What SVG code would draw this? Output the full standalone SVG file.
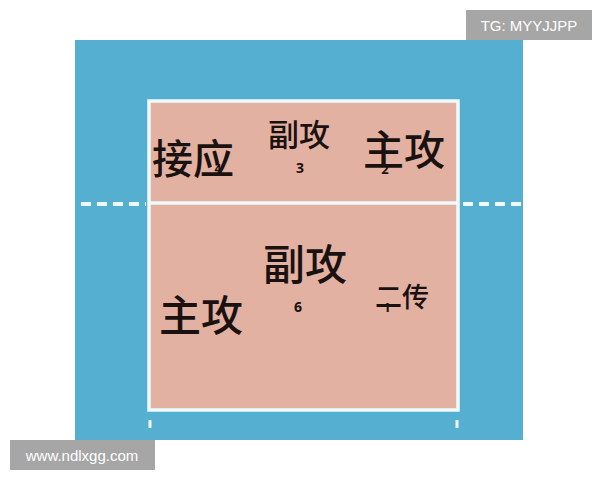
<svg xmlns="http://www.w3.org/2000/svg" width="600" height="480" viewBox="0 0 600 480">
<style>
.cj{font-family:"Noto Sans CJK SC","Noto Sans",sans-serif;fill:#1a1210;font-weight:500;}
.num{font-family:"Noto Sans","DejaVu Sans",sans-serif;fill:#1a1210;font-weight:bold;text-anchor:middle;}
.wm{font-family:"Liberation Sans",Arial,sans-serif;fill:#ffffff;font-size:15px;}
.ln{stroke:#eefafb;fill:none;}
</style>
<rect x="0" y="0" width="600" height="480" fill="#ffffff"/>
<rect x="75" y="40" width="448" height="400" fill="#55afd1"/>
<g id="court">
<rect x="149" y="101" width="309" height="309" fill="#e3b1a1"/>
<rect x="149" y="101" width="309" height="309" class="ln" stroke-width="3.5"/>
<line x1="149" y1="203" x2="458" y2="203" class="ln" stroke-width="3.5"/>
</g>
<g id="connectors">
<line x1="81" y1="204" x2="146" y2="204" class="ln" stroke-width="4" stroke-dasharray="10,6"/>
<line x1="463" y1="204" x2="523" y2="204" class="ln" stroke-width="4" stroke-dasharray="10,6"/>
<line x1="150" y1="420" x2="150" y2="428" class="ln" stroke-width="3"/>
<line x1="457" y1="420" x2="457" y2="428" class="ln" stroke-width="3"/>
</g>
<g id="pos4">
<text x="218" y="173" class="num" font-size="12">4</text>
<text x="152" y="174" class="cj" font-size="41">接应</text>
</g>
<g id="pos3">
<text x="268" y="146" class="cj" font-size="31">副攻</text>
<text x="300" y="173" class="num" font-size="14">3</text>
</g>
<g id="pos2">
<text x="363" y="165" class="cj" font-size="41">主攻</text>
<text x="385" y="174" class="num" font-size="13">2</text>
</g>
<g id="pos6">
<text x="263" y="280" class="cj" font-size="42">副攻</text>
<text x="298" y="312" class="num" font-size="14">6</text>
</g>
<g id="pos5">
<text x="159" y="331" class="cj" font-size="42">主攻</text>
</g>
<g id="pos1">
<text x="387" y="312" class="num" font-size="13">1</text>
<text x="375" y="307" class="cj" font-size="27">二传</text>
</g>
<g id="watermarks">
<rect x="466" y="10" width="126" height="30" fill="#a6a6a6"/>
<text x="529" y="31" class="wm" text-anchor="middle">TG: MYYJJPP</text>
<rect x="10" y="440" width="145" height="30" fill="#a6a6a6"/>
<text x="82" y="461" class="wm" text-anchor="middle">www.ndlxgg.com</text>
</g>
</svg>
